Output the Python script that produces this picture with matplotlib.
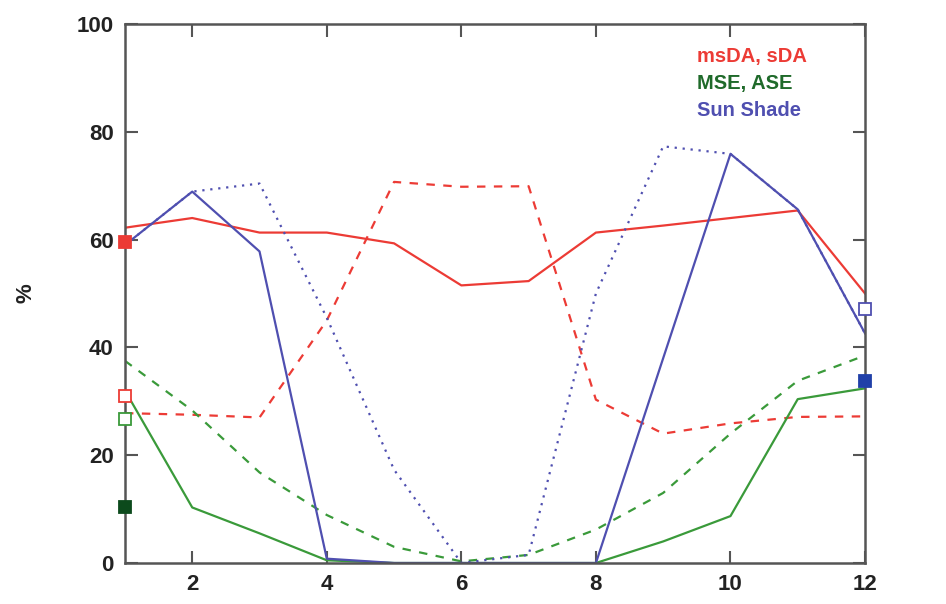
import numpy as np
import matplotlib.pyplot as plt

plt.rcParams['font.family'] = ['Liberation Sans', 'DejaVu Sans']

months = np.arange(1, 13)

msda = [62.2, 64.0, 61.3, 61.3, 59.3, 51.5, 52.3, 61.3, 62.6, 64.0, 65.4, 50.0]
sda = [27.8, 27.5, 27.0, 45.0, 70.7, 69.8, 69.9, 30.3, 24.0, 25.9, 27.1, 27.2]
mse = [32.0, 10.3, 5.5, 0.5, 0.0, 0.0, 0.0, 0.0, 4.0, 8.7, 30.4, 32.4]
ase = [37.5, 28.3, 16.8, 8.9, 3.0, 0.3, 1.5, 6.2, 13.0, 24.0, 33.8, 38.5]
shade = [59.0, 68.9, 57.8, 0.8, 0.0, 0.0, 0.0, 0.0, 38.0, 75.9, 65.6, 42.6]
shade_alt = [59.0, 68.9, 70.4, 45.5, 17.3, 0.0, 1.5, 50.0, 77.3, 75.9, 65.6, 42.6]

# single reference points drawn on the axes frame
ref_x = [1, 1, 1, 1, 12, 12]
ref_y = [59.5, 31.0, 26.8, 10.4, 47.2, 33.7]

red = '#ec3b35'
green = '#3a9a3a'
blue = '#4f4fb0'

fig = plt.figure(figsize=(9.46, 6.04), dpi=100)
ax = fig.add_axes([0.1321, 0.0679, 0.7823, 0.8924])

lw = 1.6
ax.plot(months, msda, color=red, lw=lw)
ax.plot(months, sda, color=red, lw=lw, dashes=(3.8, 3.8))
ax.plot(months, mse, color=green, lw=lw)
ax.plot(months, ase, color=green, lw=lw, dashes=(3.8, 3.8))
ax.plot(months, shade_alt, color=blue, lw=lw, dashes=(1, 2.6))
ax.plot(months, shade, color=blue, lw=lw)

ref_face = [red, 'white', 'white', '#0c4a1c', 'white', '#2040a8']
ref_edge = [red, red, green, '#0c4a1c', blue, '#2040a8']
for x, y, fc, ec in zip(ref_x, ref_y, ref_face, ref_edge):
    ax.plot([x], [y], marker='s', ms=9, mfc=fc, mec=ec, mew=1.3,
            clip_on=False, zorder=5)

ax.set_xlim(1, 12)
ax.set_ylim(0, 100)
ax.set_xticks([2, 4, 6, 8, 10, 12])
ax.set_yticks([0, 20, 40, 60, 80, 100])
ax.tick_params(direction='in', length=9, width=1.5, color='#555555',
               top=True, right=True, labelsize=16, pad=8)
for lab in ax.get_xticklabels() + ax.get_yticklabels():
    lab.set_fontweight('bold')
    lab.set_color('#222222')
for s in ax.spines.values():
    s.set_color('#555555')
    s.set_linewidth(1.8)

ax.set_ylabel('%', fontsize=16, fontweight='bold', color='#222222')
ax.yaxis.set_label_coords(-0.119, 0.5)

ax.text(9.5, 93.9, 'msDA, sDA', color=red, fontsize=14.5, fontweight='bold', va='center')
ax.text(9.5, 89.0, 'MSE, ASE', color='#1f6a2a', fontsize=14.5, fontweight='bold', va='center')
ax.text(9.5, 84.0, 'Sun Shade', color=blue, fontsize=14.5, fontweight='bold', va='center')

fig.savefig('out.png', dpi=100)
